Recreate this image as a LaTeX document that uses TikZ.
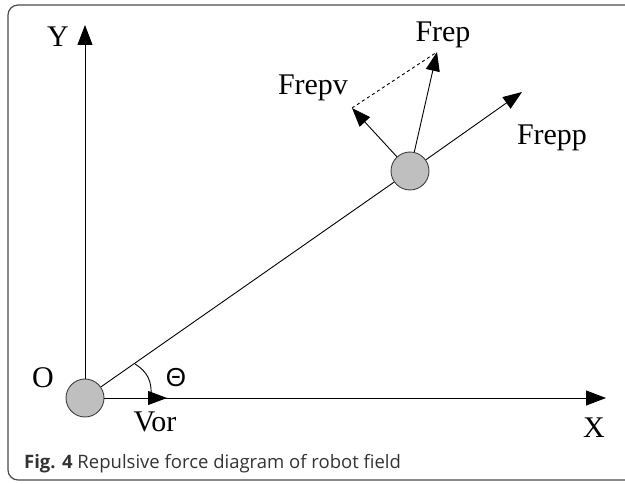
\documentclass[tikz,border=0pt]{standalone}
\usepackage{fontspec}
\setmainfont{Liberation Serif}
\newfontfamily\capfont{Open Sans}
\newfontfamily\thfont{Liberation Sans}
\usetikzlibrary{arrows.meta}
\begin{document}
\begin{tikzpicture}[x=1pt,y=-1pt,
 lbl/.style={font=\fontsize{30}{31}\selectfont, inner sep=0pt},
 ball/.style={circle, draw=black!75, fill=black!25, minimum size=38pt, inner sep=0pt, line width=0.9pt},
 axis/.style={line width=0.9pt, -{Triangle[length=20pt,width=15pt]}},
 vec/.style={line width=0.9pt, -{Triangle[length=19pt,width=14pt]}}]
\useasboundingbox (0,0) rectangle (625,484);
\clip (0,0) rectangle (625,484);
\draw[black!70, line width=1.2pt, rounded corners=10pt] (8,5) rectangle (660,480);
\node[ball] (o) at (85,398) {};
\node[ball] (r) at (410,171) {};
\coordinate (ytip) at (85,25);
\coordinate (xtip) at (606,398);
\coordinate (vtip) at (167,398);
\coordinate (pptip) at (522,92);
\coordinate (ptip) at (437,52);
\coordinate (vvtip) at (352,108);
\draw[axis] (o.north) -- (ytip);
\draw[axis] (o.east) -- (xtip);
\draw[vec] (o.east) -- (vtip);
\draw[line width=0.9pt] (o) -- (r);
\draw[vec] (r) -- (pptip);
\draw[vec] (r) -- (ptip);
\draw[vec] (r) -- (vvtip);
\draw[dashed, line width=0.9pt] (vvtip) -- (ptip);
\draw[line width=0.9pt] (135,364) .. controls (148,372) and (152,382) .. (151,396);
\node[lbl] (yl) at (58,37) {Y};
\node[lbl] (xl) at (594,428) {X};
\node[lbl] (ol) at (43,378) {O};
\node[lbl] (vl) at (155,422) {Vor};
\node[lbl] (pl) at (443,35) {Frep};
\node[lbl] (vvl) at (313,88) {Frepv};
\node[lbl] (ppl) at (552,138) {Frepp};
\node[inner sep=0pt, font=\thfont\fontsize{26}{28}\selectfont] (th) at (176,378) {Θ};
\node[anchor=base west, inner sep=0pt, font=\capfont\fontsize{18.5}{20}\selectfont, text=black!80] (cap) at (24,468) {\textbf{Fig. 4} Repulsive force diagram of robot field};
\end{tikzpicture}
\end{document}
